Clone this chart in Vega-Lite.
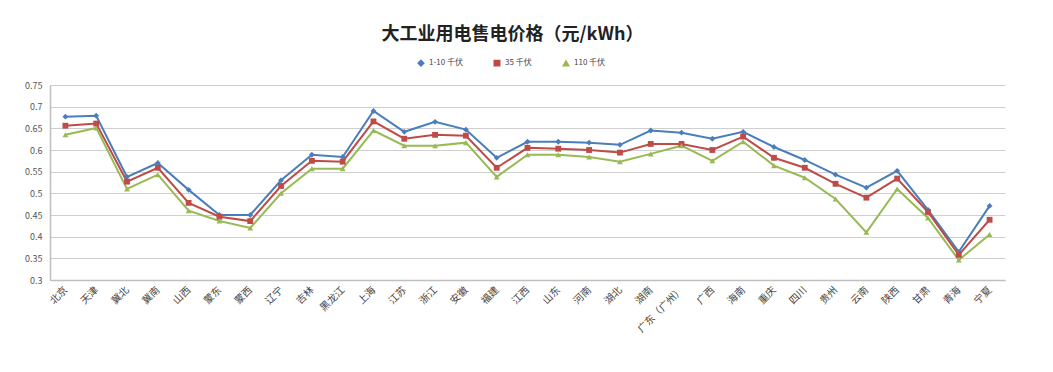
{
  "$schema": "https://vega.github.io/schema/vega-lite/v6.json",
  "autosize": "none",
  "width": 955,
  "height": 195,
  "padding": {"left": 50, "top": 85, "right": 48, "bottom": 92},
  "background": "white",
  "title": {
    "text": "大工业用电售电价格（元/kWh）",
    "fontSize": 18,
    "fontWeight": "bold",
    "color": "#222222",
    "anchor": "middle",
    "dx": -15,
    "offset": 15
  },
  "data": {
    "values": [
      {"region": "北京", "s": "1-10 千伏", "v": 0.677}, {"region": "北京", "s": "35 千伏", "v": 0.656}, {"region": "北京", "s": "110 千伏", "v": 0.635},
      {"region": "天津", "s": "1-10 千伏", "v": 0.679}, {"region": "天津", "s": "35 千伏", "v": 0.661}, {"region": "天津", "s": "110 千伏", "v": 0.651},
      {"region": "冀北", "s": "1-10 千伏", "v": 0.538}, {"region": "冀北", "s": "35 千伏", "v": 0.527}, {"region": "冀北", "s": "110 千伏", "v": 0.51},
      {"region": "冀南", "s": "1-10 千伏", "v": 0.57}, {"region": "冀南", "s": "35 千伏", "v": 0.559}, {"region": "冀南", "s": "110 千伏", "v": 0.543},
      {"region": "山西", "s": "1-10 千伏", "v": 0.508}, {"region": "山西", "s": "35 千伏", "v": 0.478}, {"region": "山西", "s": "110 千伏", "v": 0.46},
      {"region": "蒙东", "s": "1-10 千伏", "v": 0.45}, {"region": "蒙东", "s": "35 千伏", "v": 0.446}, {"region": "蒙东", "s": "110 千伏", "v": 0.436},
      {"region": "蒙西", "s": "1-10 千伏", "v": 0.45}, {"region": "蒙西", "s": "35 千伏", "v": 0.436}, {"region": "蒙西", "s": "110 千伏", "v": 0.42},
      {"region": "辽宁", "s": "1-10 千伏", "v": 0.53}, {"region": "辽宁", "s": "35 千伏", "v": 0.517}, {"region": "辽宁", "s": "110 千伏", "v": 0.5},
      {"region": "吉林", "s": "1-10 千伏", "v": 0.589}, {"region": "吉林", "s": "35 千伏", "v": 0.575}, {"region": "吉林", "s": "110 千伏", "v": 0.557},
      {"region": "黑龙江", "s": "1-10 千伏", "v": 0.584}, {"region": "黑龙江", "s": "35 千伏", "v": 0.573}, {"region": "黑龙江", "s": "110 千伏", "v": 0.557},
      {"region": "上海", "s": "1-10 千伏", "v": 0.69}, {"region": "上海", "s": "35 千伏", "v": 0.666}, {"region": "上海", "s": "110 千伏", "v": 0.645},
      {"region": "江苏", "s": "1-10 千伏", "v": 0.642}, {"region": "江苏", "s": "35 千伏", "v": 0.626}, {"region": "江苏", "s": "110 千伏", "v": 0.61},
      {"region": "浙江", "s": "1-10 千伏", "v": 0.665}, {"region": "浙江", "s": "35 千伏", "v": 0.635}, {"region": "浙江", "s": "110 千伏", "v": 0.61},
      {"region": "安徽", "s": "1-10 千伏", "v": 0.647}, {"region": "安徽", "s": "35 千伏", "v": 0.633}, {"region": "安徽", "s": "110 千伏", "v": 0.617},
      {"region": "福建", "s": "1-10 千伏", "v": 0.582}, {"region": "福建", "s": "35 千伏", "v": 0.559}, {"region": "福建", "s": "110 千伏", "v": 0.538},
      {"region": "江西", "s": "1-10 千伏", "v": 0.619}, {"region": "江西", "s": "35 千伏", "v": 0.605}, {"region": "江西", "s": "110 千伏", "v": 0.589},
      {"region": "山东", "s": "1-10 千伏", "v": 0.619}, {"region": "山东", "s": "35 千伏", "v": 0.603}, {"region": "山东", "s": "110 千伏", "v": 0.589},
      {"region": "河南", "s": "1-10 千伏", "v": 0.617}, {"region": "河南", "s": "35 千伏", "v": 0.6}, {"region": "河南", "s": "110 千伏", "v": 0.584},
      {"region": "湖北", "s": "1-10 千伏", "v": 0.612}, {"region": "湖北", "s": "35 千伏", "v": 0.594}, {"region": "湖北", "s": "110 千伏", "v": 0.573},
      {"region": "湖南", "s": "1-10 千伏", "v": 0.645}, {"region": "湖南", "s": "35 千伏", "v": 0.614}, {"region": "湖南", "s": "110 千伏", "v": 0.591},
      {"region": "广东（广州）", "s": "1-10 千伏", "v": 0.64}, {"region": "广东（广州）", "s": "35 千伏", "v": 0.614}, {"region": "广东（广州）", "s": "110 千伏", "v": 0.61},
      {"region": "广西", "s": "1-10 千伏", "v": 0.626}, {"region": "广西", "s": "35 千伏", "v": 0.6}, {"region": "广西", "s": "110 千伏", "v": 0.575},
      {"region": "海南", "s": "1-10 千伏", "v": 0.642}, {"region": "海南", "s": "35 千伏", "v": 0.631}, {"region": "海南", "s": "110 千伏", "v": 0.619},
      {"region": "重庆", "s": "1-10 千伏", "v": 0.607}, {"region": "重庆", "s": "35 千伏", "v": 0.582}, {"region": "重庆", "s": "110 千伏", "v": 0.564},
      {"region": "四川", "s": "1-10 千伏", "v": 0.577}, {"region": "四川", "s": "35 千伏", "v": 0.559}, {"region": "四川", "s": "110 千伏", "v": 0.536},
      {"region": "贵州", "s": "1-10 千伏", "v": 0.543}, {"region": "贵州", "s": "35 千伏", "v": 0.522}, {"region": "贵州", "s": "110 千伏", "v": 0.487},
      {"region": "云南", "s": "1-10 千伏", "v": 0.513}, {"region": "云南", "s": "35 千伏", "v": 0.49}, {"region": "云南", "s": "110 千伏", "v": 0.41},
      {"region": "陕西", "s": "1-10 千伏", "v": 0.552}, {"region": "陕西", "s": "35 千伏", "v": 0.534}, {"region": "陕西", "s": "110 千伏", "v": 0.51},
      {"region": "甘肃", "s": "1-10 千伏", "v": 0.462}, {"region": "甘肃", "s": "35 千伏", "v": 0.457}, {"region": "甘肃", "s": "110 千伏", "v": 0.443},
      {"region": "青海", "s": "1-10 千伏", "v": 0.365}, {"region": "青海", "s": "35 千伏", "v": 0.358}, {"region": "青海", "s": "110 千伏", "v": 0.346},
      {"region": "宁夏", "s": "1-10 千伏", "v": 0.471}, {"region": "宁夏", "s": "35 千伏", "v": 0.439}, {"region": "宁夏", "s": "110 千伏", "v": 0.405}
    ]
  },
  "encoding": {
    "x": {
      "field": "region",
      "type": "ordinal",
      "sort": null,
      "scale": {"type": "point", "padding": 0.5},
      "axis": {
        "title": null,
        "labelAngle": -45,
        "labelAlign": "right",
        "labelBaseline": "middle",
        "labelFontSize": 10,
        "labelColor": "#444444",
        "labelPadding": 8,
        "ticks": false,
        "domainColor": "#bfbfbf",
        "domainWidth": 1.5,
        "grid": false
      }
    },
    "y": {
      "field": "v",
      "type": "quantitative",
      "scale": {"domain": [0.3, 0.75], "nice": false, "zero": false},
      "axis": {
        "title": null,
        "values": [0.3, 0.35, 0.4, 0.45, 0.5, 0.55, 0.6, 0.65, 0.7, 0.75],
        "format": ".2~f",
        "labelFontSize": 9,
        "labelPadding": 8,
        "ticks": false,
        "domainColor": "#bfbfbf",
        "domainWidth": 1.5,
        "gridColor": "#cfcfcf",
        "gridWidth": 1.2
      }
    }
  },
  "layer": [
    {
      "mark": {"type": "line", "strokeWidth": 2},
      "encoding": {
        "color": {
          "field": "s",
          "type": "nominal",
          "sort": ["1-10 千伏", "35 千伏", "110 千伏"],
          "scale": {"domain": ["1-10 千伏", "35 千伏", "110 千伏"], "range": ["#4a7ebb", "#be4b48", "#98b954"]}
        }
      }
    },
    {
      "mark": {"type": "point", "filled": true, "size": 34, "opacity": 1},
      "encoding": {
        "shape": {
          "field": "s",
          "type": "nominal",
          "sort": ["1-10 千伏", "35 千伏", "110 千伏"],
          "scale": {"domain": ["1-10 千伏", "35 千伏", "110 千伏"], "range": ["diamond", "square", "triangle-up"]}
        },
        "color": {
          "field": "s",
          "type": "nominal",
          "sort": ["1-10 千伏", "35 千伏", "110 千伏"],
          "scale": {"domain": ["1-10 千伏", "35 千伏", "110 千伏"], "range": ["#4a7ebb", "#be4b48", "#98b954"]}
        }
      }
    }
  ],
  "resolve": {"legend": {"color": "shared", "shape": "shared"}},
  "config": {
    "font": "Noto Sans CJK SC",
    "view": {"stroke": null},
    "axis": {"labelFont": "Noto Sans CJK SC", "labelColor": "#555555"},
    "legend": {
      "title": null,
      "orient": "none",
      "direction": "horizontal",
      "legendX": 367,
      "legendY": -26,
      "labelFontSize": 8,
      "labelColor": "#444444",
      "symbolSize": 30,
      "columnPadding": 28,
      "labelOffset": 4,
      "symbolStrokeWidth": 1.5
    }
  }
}
